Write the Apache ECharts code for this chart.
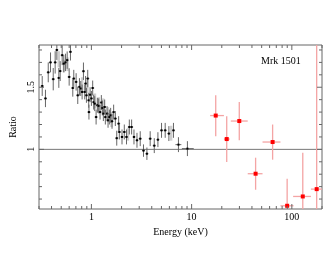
<!DOCTYPE html>
<html><head><meta charset="utf-8">
<script src="https://cdn.jsdelivr.net/npm/echarts@6/dist/echarts.min.js"></script>
<style>html,body{margin:0;padding:0;background:#fff}#c{width:330px;height:255px}</style>
</head><body><div id="c"></div>
<script>
// Black data (low energy instrument): energy (keV), ratio, symmetric error
const blackE = [0.323,0.348,0.371,0.391,0.416,0.435,0.452,0.473,0.488,0.511,0.530,0.551,0.573,0.600,0.618,0.652,0.667,0.704,0.731,0.760,0.783,0.808,0.833,0.858,0.875,0.892,0.919,0.940,0.945,0.971,1.0,1.03,1.054,1.079,1.114,1.147,1.182,1.22,1.257,1.286,1.316,1.357,1.378,1.433,1.466,1.511,1.556,1.607,1.667,1.733,1.79,1.87,1.90,2.02,2.13,2.24,2.39,2.52,2.66,2.85,3.07,3.31,3.58,3.86,4.24,4.61,5.01,5.45,5.93,6.59,7.39,9.08];
const blackR = [1.51,1.41,1.62,1.70,1.565,1.70,1.80,1.575,1.63,1.758,1.69,1.70,1.718,1.583,1.785,1.494,1.57,1.543,1.435,1.503,1.49,1.462,1.629,1.462,1.53,1.435,1.57,1.395,1.30,1.44,1.41,1.494,1.38,1.368,1.26,1.355,1.35,1.30,1.377,1.333,1.288,1.341,1.26,1.288,1.234,1.26,1.274,1.226,1.30,1.248,1.09,1.207,1.14,1.10,1.14,1.10,1.18,1.18,1.10,1.073,1.086,0.99,0.965,1.086,1.03,1.078,1.153,1.153,1.127,1.153,1.038,1.006];
const blackErr = [0.08,0.07,0.08,0.08,0.09,0.09,0.08,0.08,0.08,0.08,0.07,0.07,0.07,0.07,0.07,0.07,0.07,0.07,0.07,0.07,0.06,0.06,0.07,0.06,0.06,0.06,0.07,0.06,0.06,0.06,0.06,0.06,0.06,0.06,0.06,0.06,0.06,0.06,0.06,0.06,0.06,0.06,0.06,0.06,0.06,0.06,0.06,0.06,0.06,0.06,0.06,0.06,0.06,0.06,0.06,0.06,0.06,0.06,0.06,0.06,0.06,0.05,0.05,0.06,0.06,0.06,0.06,0.06,0.06,0.06,0.06,0.06];
const blackXlo = {7.39: 6.9, 9.08: 8.0};
const blackXhi = {7.39: 7.9, 9.08: 10.5};
// Light grey bars (second low-energy data set)
const grayE  = [0.462,0.52,0.565,0.79,0.89,1.06,1.16,1.28,1.43,1.55,2.26,6.1];
const grayLo = [1.66,1.62,1.63,1.46,1.45,1.33,1.30,1.30,1.22,1.18,1.07,1.07];
const grayHi = [1.79,1.72,1.74,1.58,1.56,1.45,1.42,1.41,1.34,1.30,1.17,1.19];
// Red data (hard X-ray)
const redE   = [17.4,22.4,29.9,43.5,64.3,89.8,128.6,177];
const redR   = [1.272,1.083,1.228,0.804,1.059,0.546,0.621,0.68];
const redYlo = [1.105,0.898,1.073,0.675,0.917,0.30,0.30,0.30];
const redYhi = [1.435,1.266,1.381,0.933,1.20,0.764,0.973,2.0];
const redXlo = [15.3,21.0,24.6,36.3,51,77,103,155];
const redXhi = [21.0,24.0,36.3,51,77,104,155,205];
// Axes
const xMin = 0.3, xMax = 200, yMin = 0.52, yMax = 1.84;
const xTickLabels = [1, 10, 100];
const xMinorTicks = [0.3,0.4,0.5,0.6,0.7,0.8,0.9,2,3,4,5,6,7,8,9,20,30,40,50,60,70,80,90,200];
const yTickLabels = [1, 1.5];
const yMinorTicks = [0.6,0.7,0.8,0.9,1.1,1.2,1.3,1.4,1.6,1.7,1.8];
const refLine = 1;

const FONT = '"Liberation Serif", "Times New Roman", serif';
const AX = '#666';

const blackData = blackE.map((e,i)=>[e, blackR[i], blackR[i]-blackErr[i], blackR[i]+blackErr[i], blackXlo[e]||e, blackXhi[e]||e]);
const grayData = grayE.map((e,i)=>[e, grayLo[i], grayHi[i]]);
const redData = redE.map((e,i)=>[e, redR[i], redYlo[i], redYhi[i], redXlo[i], redXhi[i]]);
const xTickData = xTickLabels.map(v=>[v,1,1]).concat(xMinorTicks.map(v=>[v,1,0]));
const yTickData = yTickLabels.map(v=>[xMin,v,1]).concat(yMinorTicks.map(v=>[xMin,v,0]));

function clipRect(params){const c=params.coordSys;return {x:c.x,y:c.y,width:c.width,height:c.height};}

function errRender(barColor, barWidth, mSize, mColor, pxHalf){
  return function(params, api){
    const x=api.value(0), y=api.value(1);
    const p=api.coord([x,y]);
    const lo=api.coord([x,api.value(2)]), hi=api.coord([x,api.value(3)]);
    let xl=api.coord([api.value(4),y]), xh=api.coord([api.value(5),y]);
    if (xh[0]-xl[0] < 2*pxHalf){ xl=[p[0]-pxHalf,p[1]]; xh=[p[0]+pxHalf,p[1]]; }
    return {type:'group', children:[
      {type:'line', shape:{x1:p[0],y1:lo[1],x2:p[0],y2:hi[1]}, style:{stroke:barColor,lineWidth:barWidth}},
      {type:'line', shape:{x1:xl[0],y1:p[1],x2:xh[0],y2:p[1]}, style:{stroke:barColor,lineWidth:barWidth}},
      {type:'rect', shape:{x:p[0]-mSize/2,y:p[1]-mSize/2,width:mSize,height:mSize}, style:{fill:mColor}}
    ]};
  };
}

const chart = echarts.init(document.getElementById('c'), null, {renderer:'canvas'});
chart.setOption({
  animation:false,
  backgroundColor:'#fff',
  title:{text:'Mrk 1501', left:256, top:51, textStyle:{fontFamily:FONT,fontSize:10,fontWeight:'normal',color:'#000'}},
  grid:{left:39, right:8, top:45, bottom:46, show:true, borderColor:AX, borderWidth:1, backgroundColor:'transparent'},
  xAxis:{type:'log', logBase:10, min:xMin, max:xMax,
    name:'Energy (keV)', nameLocation:'middle', nameGap:13,
    nameTextStyle:{fontFamily:FONT,fontSize:10,color:'#000'},
    axisLine:{show:false}, axisTick:{show:false}, splitLine:{show:false}, minorTick:{show:false},
    axisLabel:{show:true, margin:3, fontFamily:FONT, fontSize:10, color:'#000', showMinLabel:true, showMaxLabel:true,
      formatter:function(v){for(const t of xTickLabels){if(Math.abs(Math.log10(v)-Math.log10(t))<1e-6)return String(t);}return '';}}
  },
  yAxis:{type:'value', min:yMin, max:yMax, interval:0.02,
    name:'Ratio', nameLocation:'middle', nameGap:20, nameRotate:90,
    nameTextStyle:{fontFamily:FONT,fontSize:10,color:'#000'},
    axisLine:{show:false}, axisTick:{show:false}, splitLine:{show:false},
    axisLabel:{show:true, interval:0, rotate:90, margin:3, fontFamily:FONT, fontSize:10, color:'#000',
      formatter:function(v){for(const t of yTickLabels){if(Math.abs(v-t)<1e-6)return String(t);}return '';}}
  },
  series:[
    {type:'custom', name:'grey', clip:true, silent:true, data:grayData, encode:{x:0,y:[1,2]},
      renderItem:function(params,api){const x=api.value(0);const a=api.coord([x,api.value(1)]),b=api.coord([x,api.value(2)]);
        return {type:'line', shape:{x1:a[0]+1,y1:a[1],x2:b[0]+1,y2:b[1]}, style:{stroke:'#cfcfcf',lineWidth:2.5}};}},
    {type:'custom', name:'ref', silent:true, data:[[xMin,refLine]], encode:{x:0,y:1},
      renderItem:function(params,api){const c=params.coordSys;const p=api.coord([xMin,refLine]);
        return {type:'line', shape:{x1:c.x,y1:p[1],x2:c.x+c.width,y2:p[1]}, style:{stroke:'#777',lineWidth:1}};}},
    {type:'custom', name:'black', clip:true, silent:true, data:blackData, encode:{x:0,y:[1,2,3]},
      renderItem:errRender('#666',1,2,'#000',1.5)},
    {type:'custom', name:'red', clip:true, silent:true, data:redData, encode:{x:[0,4,5],y:[1,2,3]},
      renderItem:errRender('#f4a4a4',1.3,4,'#ff0000',0)},
    {type:'custom', name:'xticks', silent:true, data:xTickData, encode:{x:0,y:1},
      renderItem:function(params,api){const c=params.coordSys;const px=api.coord([api.value(0),1])[0];const L=api.value(2)?5:3;
        return {type:'group',children:[
          {type:'line',shape:{x1:px,y1:c.y+c.height,x2:px,y2:c.y+c.height-L},style:{stroke:AX,lineWidth:1}},
          {type:'line',shape:{x1:px,y1:c.y,x2:px,y2:c.y+L},style:{stroke:AX,lineWidth:1}}]};}},
    {type:'custom', name:'yticks', silent:true, data:yTickData, encode:{x:0,y:1},
      renderItem:function(params,api){const c=params.coordSys;const py=api.coord([xMin,api.value(1)])[1];const L=api.value(2)?5:3;
        return {type:'group',children:[
          {type:'line',shape:{x1:c.x,y1:py,x2:c.x+L,y2:py},style:{stroke:AX,lineWidth:1}},
          {type:'line',shape:{x1:c.x+c.width,y1:py,x2:c.x+c.width-L,y2:py},style:{stroke:AX,lineWidth:1}}]};}}
  ]
});
</script></body></html>
